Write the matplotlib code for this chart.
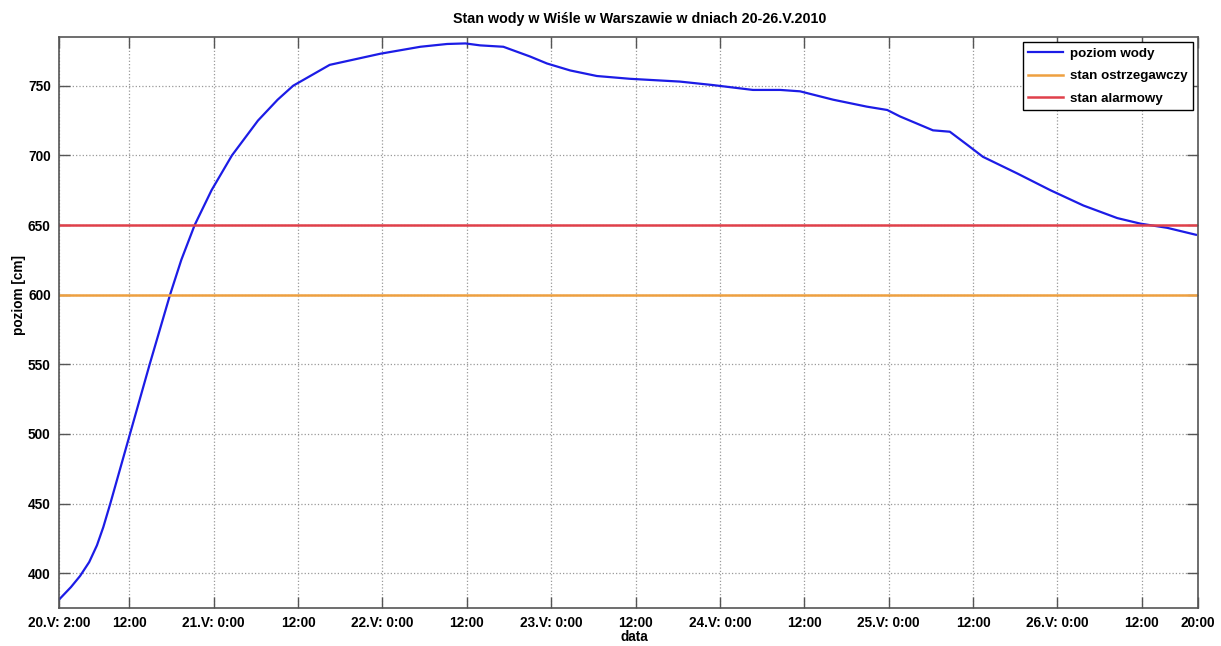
import matplotlib
matplotlib.use("Agg")
import matplotlib.pyplot as plt

# godziny liczone od 20.V 0:00
godziny = [2, 3.7, 5, 6.3, 7.4, 8.3, 9.3, 12.1, 14.9, 17.8, 19.4, 21.3, 23.7, 26.6, 30.3,
           33.1, 35.3, 40.5, 47.7, 53.4, 57.2, 59.8, 61.9, 65.2, 69, 71.4, 74.7, 78.5,
           83.2, 90.3, 95, 100.7, 104.6, 107.4, 112.1, 116.9, 119.8, 121.6, 126.3,
           128.7, 131.2, 133.4, 138.3, 143, 147.7, 152.5, 155.8, 159.6, 163.7]
poziom = [381, 390, 398, 408, 420, 433, 450, 500, 550, 600, 625, 650, 675, 700, 725,
          740, 750, 765, 773, 778, 780, 780.4, 779, 778, 771, 766, 761, 757,
          755, 753, 750.5, 747, 747, 746, 740, 735, 732.6, 728, 718,
          717, 707.5, 699, 687, 675, 664, 655, 651, 648, 643]

stan_ostrzegawczy = 600
stan_alarmowy = 650

tick_godz = [2, 12, 24, 36, 48, 60, 72, 84, 96, 108, 120, 132, 144, 156, 164]
tick_opisy = ["20.V: 2:00", "12:00", "21.V: 0:00", "12:00", "22.V: 0:00", "12:00",
              "23.V: 0:00", "12:00", "24.V: 0:00", "12:00", "25.V: 0:00", "12:00",
              "26.V: 0:00", "12:00", "20:00"]

plt.rcParams['font.family'] = ['Liberation Sans', 'DejaVu Sans']
plt.rcParams['font.weight'] = 'bold'

fig = plt.figure(figsize=(12.21, 6.46), dpi=100)
ax = fig.add_axes([0.0483, 0.0588, 0.9329, 0.8839])

ax.plot(godziny, poziom, color='#1c1ce6', lw=1.6, label='poziom wody')
ax.axhline(stan_ostrzegawczy, color='#eea040', lw=1.8, label='stan ostrzegawczy')
ax.axhline(stan_alarmowy, color='#e0404a', lw=1.8, label='stan alarmowy')

ax.set_xlim(2, 164)
ax.set_ylim(375, 785)
ax.set_xticks(tick_godz)
ax.set_xticklabels(tick_opisy)
ax.set_yticks(range(400, 751, 50))

ax.grid(True, linestyle=':', color='#999999', lw=0.9)
ax.tick_params(direction='in', length=8, width=1, color='#555555', labelsize=9.8,
               top=True, right=True, pad=6)
for s in ax.spines.values():
    s.set_color('#555555')
    s.set_linewidth(1.2)

ax.set_title("Stan wody w Wiśle w Warszawie w dniach 20-26.V.2010", fontsize=10.3,
             fontweight='bold', pad=10, x=0.51)
ax.set_xlabel("data", fontsize=9.8, fontweight='bold')
ax.set_ylabel("poziom [cm]", fontsize=9.8, fontweight='bold')
ax.xaxis.set_label_coords(0.505, -0.039)
ax.yaxis.set_label_coords(-0.029, 0.548)

leg = ax.legend(loc='upper right', fancybox=False, edgecolor='black', fontsize=9.6,
                handlelength=2.6, handletextpad=0.5, labelspacing=0.75,
                borderaxespad=0.4, framealpha=1)
leg.get_frame().set_linewidth(1.0)

fig.savefig("out.png", dpi=100)
